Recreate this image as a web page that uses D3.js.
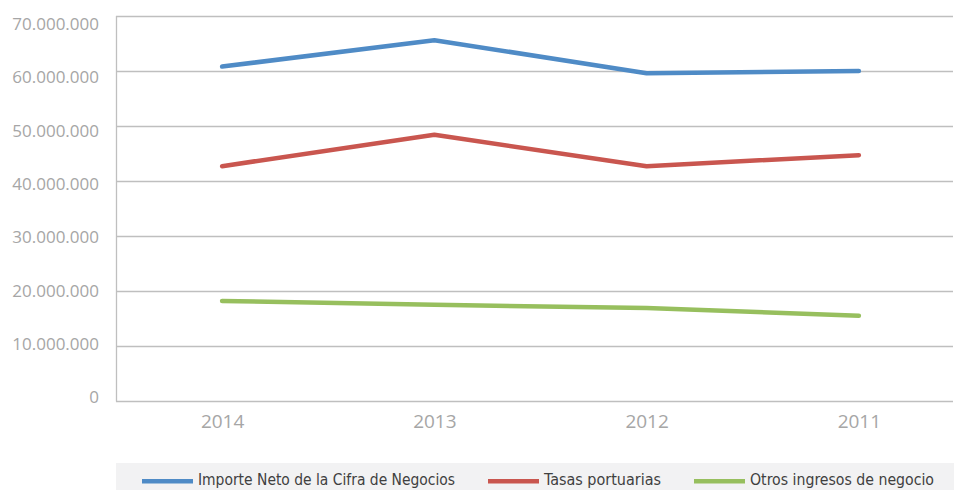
<!DOCTYPE html>
<html>
<head>
<meta charset="utf-8">
<script src="https://cdn.jsdelivr.net/npm/d3@7"></script>
<style>
  body { margin: 0; background: #fff; }
  svg { display: block; }
</style>
</head>
<body>
<div id="chart"></div>
<script>
// years, in the order shown on the chart
var years = ["2014", "2013", "2012", "2011"];

// series values (euros)
var importeNeto = [60800000, 65600000, 59600000, 60000000];
var tasas = [42700000, 48400000, 42700000, 44700000];
var otros = [18200000, 17500000, 16900000, 15500000];

var yTicks = [0, 10000000, 20000000, 30000000, 40000000, 50000000, 60000000, 70000000];

var seriesNames = ["Importe Neto de la Cifra de Negocios", "Tasas portuarias", "Otros ingresos de negocio"];
var seriesColors = ["#4f8bc6", "#c9564f", "#97bf5e"];

var series = [importeNeto, tasas, otros].map(function (vals, i) {
    return { name: seriesNames[i], color: seriesColors[i], values: vals };
});

// dimensions
var W = 954, H = 490;
var margin = {top: 16, right: 1, bottom: 89, left: 116},
    width = W - margin.left - margin.right,
    height = H - margin.top - margin.bottom;

var svg = d3.select("#chart").append("svg")
    .attr("width", W)
    .attr("height", H);

var g = svg.append("g")
    .attr("transform", "translate(" + margin.left + "," + margin.top + ")");

// scales
var x = d3.scalePoint()
    .domain(years)
    .range([0, 849])
    .padding(0.5);

var y = d3.scaleLinear()
    .domain([0, 70000000])
    .range([height, 0]);

// the tick labels sit on a slightly tighter spacing than the gridlines
var yLabel = d3.scaleLinear()
    .domain([0, 70000000])
    .range([height - 4.5, 7.5]);

var fmt = function (v) {
    return d3.format(",")(v).replace(/,/g, ".");
};

// gridlines
g.selectAll(".grid")
    .data(yTicks)
    .enter().append("line")
    .attr("x1", 0)
    .attr("x2", width)
    .attr("y1", function (d) { return Math.round(y(d)) + 0.5; })
    .attr("y2", function (d) { return Math.round(y(d)) + 0.5; })
    .attr("stroke", "#bfbfbf")
    .attr("stroke-width", 1.3);

// left axis line
g.append("line")
    .attr("x1", 0.5).attr("x2", 0.5)
    .attr("y1", 0).attr("y2", Math.round(height) + 0.5)
    .attr("stroke", "#bfbfbf")
    .attr("stroke-width", 1.3);

// y axis labels
var yAxis = g.append("g")
    .call(d3.axisLeft(yLabel).tickValues(yTicks).tickFormat(fmt).tickSize(0).tickPadding(17));
yAxis.select(".domain").remove();
yAxis.selectAll("text")
    .attr("fill", "#a6a6a6")
    .attr("dy", "0.36em")
    .style("font-family", "'Open Sans', sans-serif")
    .style("font-size", "17px");

// x axis labels
var xAxis = g.append("g")
    .attr("transform", "translate(0," + height + ")")
    .call(d3.axisBottom(x).tickSize(0).tickPadding(14));
xAxis.select(".domain").remove();
xAxis.selectAll("text")
    .attr("fill", "#a6a6a6")
    .style("font-family", "'Open Sans', sans-serif")
    .style("font-size", "19px");

// lines
var line = d3.line()
    .x(function (d, i) { return x(years[i]); })
    .y(function (d) { return y(d); });

g.selectAll(".series")
    .data(series)
    .enter().append("path")
    .attr("d", function (d) { return line(d.values); })
    .attr("fill", "none")
    .attr("stroke", function (d) { return d.color; })
    .attr("stroke-width", 4.5)
    .attr("stroke-linejoin", "round")
    .attr("stroke-linecap", "round");

// legend
var legend = svg.append("g");
legend.append("rect")
    .attr("x", 116).attr("y", 463)
    .attr("width", 838).attr("height", 27)
    .attr("fill", "#f2f2f3");

var legendX = [142, 488, 694];
var legendTextW = [257, 117, 184];
var items = legend.selectAll(".item")
    .data(series)
    .enter().append("g")
    .attr("transform", function (d, i) { return "translate(" + legendX[i] + ",481)"; });

items.append("rect")
    .attr("x", 0).attr("y", -2)
    .attr("width", 51).attr("height", 4.5)
    .attr("fill", function (d) { return d.color; });

items.append("text")
    .attr("x", 56)
    .attr("y", 3.5)
    .attr("textLength", function (d, i) { return legendTextW[i]; })
    .attr("lengthAdjust", "spacingAndGlyphs")
    .attr("fill", "#404040")
    .style("font-family", "'Liberation Sans Narrow', 'DejaVu Sans Condensed', sans-serif")
    .style("font-size", "16px")
    .text(function (d) { return d.name; });
</script>
</body>
</html>
